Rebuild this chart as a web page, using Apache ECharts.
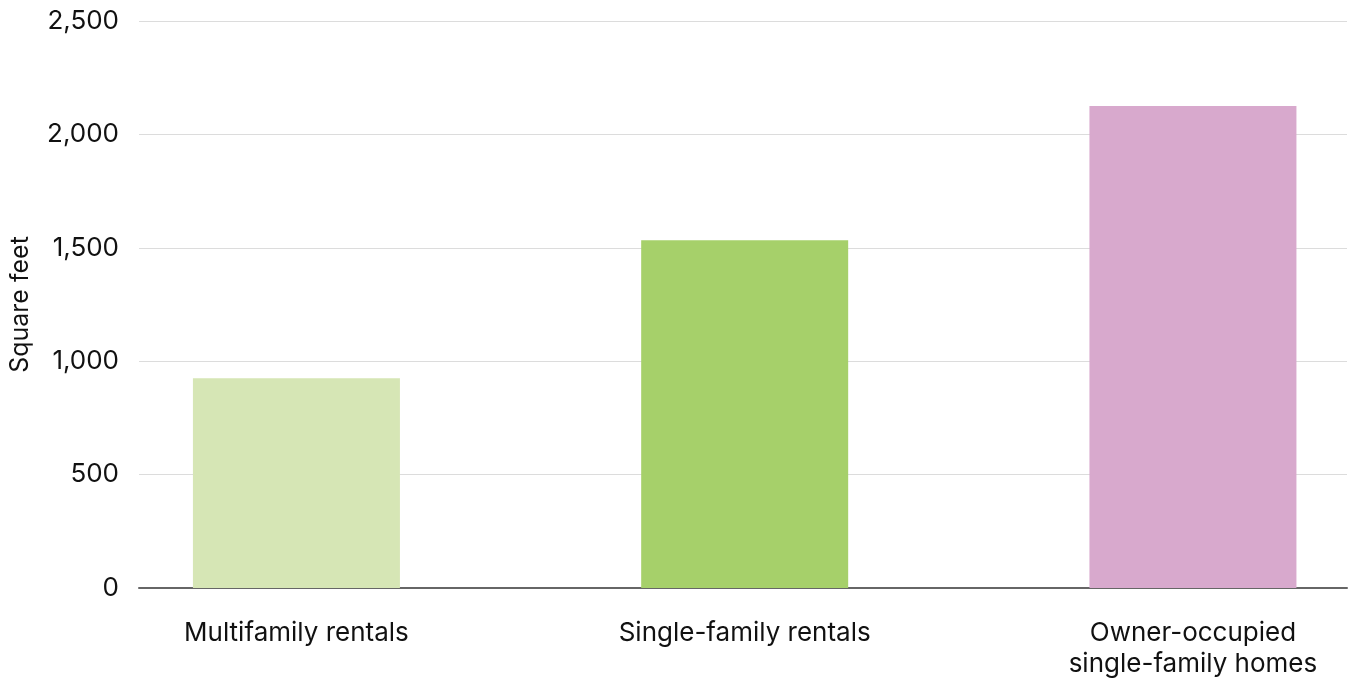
<!DOCTYPE html>
<html>
<head>
<meta charset="utf-8">
<script src="https://cdn.jsdelivr.net/npm/echarts@6/dist/echarts.min.js"></script>
<style>html,body{margin:0;padding:0;background:#fff}#c{width:1349px;height:681px}</style>
</head>
<body>
<div id="c"></div>
<script>
const categories = ['Multifamily rentals', 'Single-family rentals', 'Owner-occupied\nsingle-family homes'];
const values = [925, 1533, 2125];
const barColors = ['#d6e6b5', '#a6d06a', '#d8a9cd'];
const yTicks = { min: 0, max: 2500, interval: 500 };
const yAxisTitle = 'Square feet';

const font = 'Inter, "DejaVu Sans", sans-serif';
const positions = categories.map((c, i) => i);
const chart = echarts.init(document.getElementById('c'));
chart.setOption({
  animation: false,
  grid: { left: 137, right: 2, top: 21, bottom: 93 },
  xAxis: {
    type: 'value', min: -0.3512, max: 2.3437,
    axisLine: { show: true, onZero: false, lineStyle: { color: '#666', width: 2 } },
    axisTick: { show: false },
    splitLine: { show: false },
    axisLabel: { customValues: positions, formatter: v => categories[Math.round(v)] || '',
      color: '#111', fontFamily: font, fontSize: 26, lineHeight: 31, margin: 30 }
  },
  yAxis: {
    type: 'value', min: yTicks.min, max: yTicks.max, interval: yTicks.interval,
    name: yAxisTitle, nameLocation: 'middle', nameGap: 106,
    nameTextStyle: { color: '#111', fontFamily: font, fontSize: 25 },
    axisLine: { show: false }, axisTick: { show: false },
    axisLabel: { color: '#111', fontFamily: font, fontSize: 26, margin: 20,
      formatter: v => v.toLocaleString('en-US') },
    splitLine: { lineStyle: { color: '#dcdcdc', width: 1 } }
  },
  series: [{
    type: 'bar', barWidth: 207,
    data: values.map((v, i) => ({ value: [positions[i], v], itemStyle: { color: barColors[i] } }))
  }]
});
</script>
</body>
</html>
